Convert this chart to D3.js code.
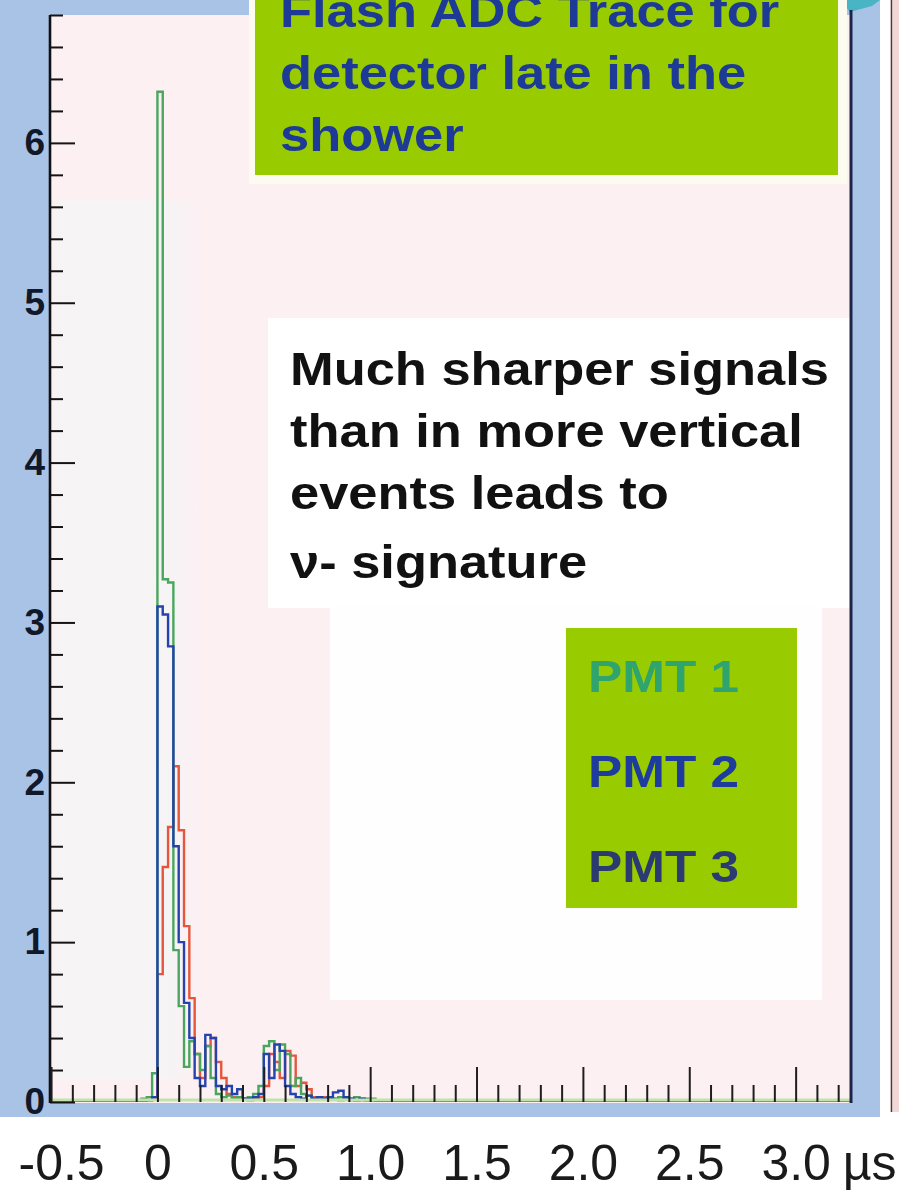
<!DOCTYPE html>
<html><head><meta charset="utf-8">
<script src="https://cdn.jsdelivr.net/npm/d3@7"></script>
<style>body{margin:0;background:#fff}svg{display:block}</style>
</head><body>
<svg id="chart" width="899" height="1190"></svg>
<script>
// FADC trace, 25 ns bins starting at -0.1 µs (VEM-equivalent amplitude)
const binStart = -0.1;
const binWidth = 0.025;
const pmt1 = [0, 0.02, 0.03, 0.18, 6.32, 3.27, 3.25, 0.95, 0.60, 0.22, 0.38, 0.30, 0.20, 0.35, 0.15, 0.05,
  0.03, 0.04, 0.02, 0.03, 0.02, 0.03, 0.05, 0.10, 0.35, 0.38, 0.20, 0.36, 0.30, 0.10, 0.15, 0.05,
  0.04, 0.02, 0.03, 0.02, 0.03, 0.02, 0.03, 0.02, 0.02, 0.03, 0.02, 0.02, 0.02];
const pmt2 = [0, 0, 0.01, 0.03, 3.10, 3.05, 2.85, 1.60, 1.00, 0.62, 0.40, 0.15, 0.10, 0.42, 0.40, 0.10,
  0.08, 0.10, 0.05, 0.08, 0.02, 0.02, 0.03, 0.05, 0.30, 0.15, 0.36, 0.32, 0.10, 0.05, 0.03, 0.02,
  0.04, 0.02, 0.03, 0.02, 0.03, 0.06, 0.07, 0.03, 0.02, 0.01, 0.02, 0.01, 0.01];
const pmt3 = [0, 0, 0.01, 0.02, 0.80, 1.47, 1.72, 2.10, 1.70, 1.10, 0.65, 0.30, 0.15, 0.35, 0.40, 0.25,
  0.15, 0.05, 0.03, 0.02, 0.02, 0.01, 0.02, 0.03, 0.10, 0.30, 0.25, 0.15, 0.32, 0.29, 0.10, 0.12,
  0.08, 0.03, 0.02, 0.03, 0.02, 0.02, 0.01, 0.02, 0.01, 0.01, 0.01, 0.01, 0.01];

const yTickValues = [0, 1, 2, 3, 4, 5, 6];
const xTickValues = [-0.5, 0, 0.5, 1.0, 1.5, 2.0, 2.5, 3.0];
const xTickLabels = ["-0.5", "0", "0.5", "1.0", "1.5", "2.0", "2.5", "3.0"];
const xUnit = "µs";

const titleLines = ["Flash ADC Trace for", "detector late in the", "shower"];
const noteLines = ["Much sharper signals", "than in more vertical", "events leads to", "ν- signature"];
const legendLabels = ["PMT 1", "PMT 2", "PMT 3"];

const svg = d3.select("#chart");
const W = 899, H = 1190;
const plot = {left: 50, right: 852, top: 15, bottom: 1102};

const x = d3.scaleLinear().domain([-0.505, 3.265]).range([plot.left, plot.right]);
const y = d3.scaleLinear().domain([0, 6.8]).range([plot.bottom, plot.top]);

// slide backdrop
svg.append("rect").attr("width", W).attr("height", H).attr("fill", "#ffffff");
svg.append("rect").attr("x", 0).attr("y", 0).attr("width", 880).attr("height", 1117).attr("fill", "#a9c3e6");
svg.append("rect").attr("x", 893).attr("y", 0).attr("width", 6).attr("height", 1112).attr("fill", "#f3d6d8");
svg.append("line").attr("x1", 891.5).attr("x2", 891.5).attr("y1", 0).attr("y2", 1112)
  .attr("stroke", "#5e3030").attr("stroke-width", 1.6);
svg.append("polygon").attr("points", "840,0 880,0 872,6 850,12").attr("fill", "#49b5c4");

// frame fill, with a paler band left of the trace
svg.append("rect").attr("x", plot.left).attr("y", plot.top)
  .attr("width", plot.right - plot.left).attr("height", plot.bottom - plot.top + 1).attr("fill", "#fcf0f3");
const pale = svg.append("defs").append("linearGradient").attr("id", "paleband").attr("x1", 0).attr("x2", 1);
pale.append("stop").attr("offset", "0%").attr("stop-color", "#f6f4f5").attr("stop-opacity", 0.9);
pale.append("stop").attr("offset", "80%").attr("stop-color", "#f6f4f5").attr("stop-opacity", 0.9);
pale.append("stop").attr("offset", "100%").attr("stop-color", "#f6f4f5").attr("stop-opacity", 0);
svg.append("rect").attr("x", 54).attr("y", 200).attr("width", 145).attr("height", 880).attr("fill", "url(#paleband)");

// annotation backgrounds
svg.append("rect").attr("x", 268).attr("y", 318).attr("width", 584).attr("height", 290).attr("fill", "#ffffff");
svg.append("rect").attr("x", 330).attr("y", 606).attr("width", 492).attr("height", 394).attr("fill", "#fefefe");

// histograms
svg.append("clipPath").attr("id", "plotclip").append("rect")
  .attr("x", plot.left).attr("y", plot.top).attr("width", plot.right - plot.left).attr("height", plot.bottom - plot.top);

function stepPoints(vals) {
  const pts = [[x.domain()[0], 0]];
  vals.forEach((v, i) => pts.push([binStart + i * binWidth, v]));
  pts.push([binStart + vals.length * binWidth, 0]);
  pts.push([x.domain()[1], 0]);
  return pts;
}
const stepLine = d3.line().x(d => x(d[0])).y(d => y(d[1])).curve(d3.curveStepAfter);

const hg = svg.append("g").attr("clip-path", "url(#plotclip)");
const series = [
  {vals: pmt3, color: "#e4573d"},
  {vals: pmt1, color: "#4aa65e"},
  {vals: pmt2, color: "#2643ad"}
];
series.forEach(s => {
  hg.append("path").attr("d", stepLine(stepPoints(s.vals)))
    .attr("fill", "none").attr("stroke", s.color).attr("stroke-width", 2.4);
});

// light baseline along the bottom
svg.append("line").attr("x1", plot.left).attr("x2", plot.right).attr("y1", plot.bottom - 2).attr("y2", plot.bottom - 2)
  .attr("stroke", "#bfe3a8").attr("stroke-width", 3);

// y axis (ticks point into the frame)
const yMinor = d3.range(0, 6.81, 0.2).filter(v => Math.abs(v - Math.round(v)) > 0.01);
const yAxisMinor = svg.append("g").attr("transform", `translate(${plot.left},0)`)
  .call(d3.axisLeft(y).tickValues(yMinor).tickSize(-13).tickFormat(""));
const yAxis = svg.append("g").attr("transform", `translate(${plot.left},0)`)
  .call(d3.axisLeft(y).tickValues(yTickValues).tickSize(-25).tickPadding(5).tickFormat(d3.format("d")));
[yAxisMinor, yAxis].forEach(g => {
  g.select(".domain").remove();
  g.selectAll(".tick line").attr("stroke", "#141414").attr("stroke-width", 2);
});
yAxis.selectAll(".tick text").attr("font-family", "Liberation Sans, Arial, sans-serif")
  .attr("font-weight", "bold").attr("font-size", 37).attr("fill", "#10182a");
svg.append("line").attr("x1", plot.left).attr("x2", plot.left).attr("y1", plot.top).attr("y2", plot.bottom + 1)
  .attr("stroke", "#111").attr("stroke-width", 2.6);

// x axis (ticks point up)
const xMinor = d3.range(-0.5, 3.25, 0.1).filter(v => Math.abs(v * 2 - Math.round(v * 2)) > 0.01);
const xAxisMinor = svg.append("g").attr("transform", `translate(0,${plot.bottom})`)
  .call(d3.axisBottom(x).tickValues(xMinor).tickSize(-17).tickFormat(""));
const xAxis = svg.append("g").attr("transform", `translate(0,${plot.bottom})`)
  .call(d3.axisBottom(x).tickValues(xTickValues).tickSize(-35).tickPadding(42)
    .tickFormat((d, i) => xTickLabels[i]));
[xAxisMinor, xAxis].forEach(g => {
  g.select(".domain").remove();
  g.selectAll(".tick line").attr("stroke", "#1e1e1e").attr("stroke-width", 2);
});
xAxis.selectAll(".tick text").attr("font-family", "Liberation Sans, Arial, sans-serif")
  .attr("font-size", 50).attr("fill", "#1a1a1a");
// first label sits clear of the left edge
xAxis.selectAll(".tick text").filter(d => d < 0).attr("dx", 10);
svg.append("text").attr("x", x(3.0) + 47).attr("y", 1180)
  .attr("font-family", "Liberation Sans, Arial, sans-serif").attr("font-size", 50).attr("fill", "#1a1a1a")
  .text(xUnit);

// right frame edge
svg.append("line").attr("x1", 851).attr("x2", 851).attr("y1", 10).attr("y2", plot.bottom + 1)
  .attr("stroke", "#1c2545").attr("stroke-width", 3);

// stretched bold text helper
function label(parent, str, px, py, size, color) {
  parent.append("text").attr("transform", `translate(${px},${py}) scale(1.14,1)`)
    .attr("font-family", "Liberation Sans, Arial, sans-serif").attr("font-weight", "bold")
    .attr("font-size", size).attr("fill", color).text(str);
}

// title box
svg.append("rect").attr("x", 249).attr("y", 0).attr("width", 598).attr("height", 184).attr("fill", "#fbfbef");
svg.append("rect").attr("x", 255).attr("y", 0).attr("width", 583).attr("height", 175).attr("fill", "#99cc00");
titleLines.forEach((t, i) => label(svg, t, 280, 27 + i * 62, 46, "#1d3a96"));

// note
noteLines.forEach((t, i) => label(svg, t, 290, [385, 447, 509, 578][i], 46, "#111111"));

// legend box
svg.append("rect").attr("x", 566).attr("y", 628).attr("width", 231).attr("height", 280).attr("fill", "#99cc00");
const legendColors = ["#2fa46e", "#1e3c9e", "#2c3a72"];
legendLabels.forEach((t, i) => label(svg, t, 588, 692 + i * 95, 45, legendColors[i]));
</script>
</body></html>
